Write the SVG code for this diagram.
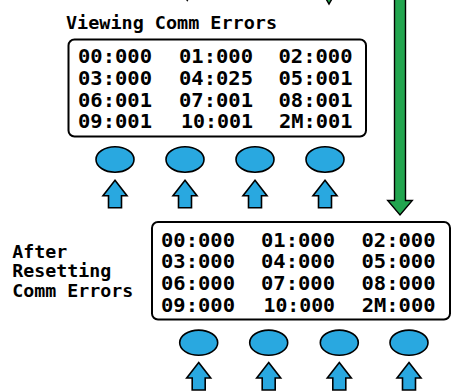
<svg xmlns="http://www.w3.org/2000/svg" xmlns:xlink="http://www.w3.org/1999/xlink" width="458" height="392" viewBox="0 0 458 392">
  <style>
    .lbl { font-family: "DejaVu Sans Mono", "Liberation Mono", monospace; font-size: 17px; font-weight: bold; fill: #000; }
    .num { font-family: "DejaVu Sans Mono", "Liberation Mono", monospace; font-size: 18.6px; font-weight: bold; fill: #000; }
    .box { fill: #fff; stroke: #000; stroke-width: 2; }
    .btn { fill: #29A8E0; stroke: #000; stroke-width: 1.6; }
    .up { fill: #29A8E0; stroke: #000; stroke-width: 1.6; stroke-linejoin: miter; }
    .green { fill: #22A54F; stroke: #000; stroke-width: 1.4; }
  </style>
  <defs>
    <path id="uparrow" d="M0,0 L12,15.5 L6.5,15.5 L6.5,27.5 L-6.5,27.5 L-6.5,15.5 L-12,15.5 Z"/>
  </defs>
  <rect width="458" height="392" fill="#fff"/>

  <g id="connectors">
    <polygon class="green" points="394.5,-2 405.5,-2 405.5,200.5 412.3,200.5 400,215 387.7,200.5 394.5,200.5"/>
    <polygon class="green" points="325.5,-2 332.5,-2 329,4"/>
    <polygon fill="#000" points="185.5,-1 189,-1 187.3,1.8"/>
  </g>

  <g id="title">
    <text class="lbl" x="66" y="28.5" textLength="211" lengthAdjust="spacingAndGlyphs">Viewing Comm Errors</text>
  </g>

  <g id="display-before">
    <rect class="box" x="68.5" y="39.5" width="297.5" height="97" rx="6"/>
    <g class="num">
      <text x="78" y="63" textLength="74" lengthAdjust="spacingAndGlyphs">00:000</text>
      <text x="179" y="63" textLength="74" lengthAdjust="spacingAndGlyphs">01:000</text>
      <text x="278.5" y="63" textLength="74" lengthAdjust="spacingAndGlyphs">02:000</text>
      <text x="78" y="85" textLength="74" lengthAdjust="spacingAndGlyphs">03:000</text>
      <text x="179" y="85" textLength="74" lengthAdjust="spacingAndGlyphs">04:025</text>
      <text x="278.5" y="85" textLength="74" lengthAdjust="spacingAndGlyphs">05:001</text>
      <text x="78" y="106.5" textLength="74" lengthAdjust="spacingAndGlyphs">06:001</text>
      <text x="179" y="106.5" textLength="74" lengthAdjust="spacingAndGlyphs">07:001</text>
      <text x="278.5" y="106.5" textLength="74" lengthAdjust="spacingAndGlyphs">08:001</text>
      <text x="78" y="128" textLength="74" lengthAdjust="spacingAndGlyphs">09:001</text>
      <text x="181" y="128" textLength="72" lengthAdjust="spacingAndGlyphs">10:001</text>
      <text x="279" y="128" textLength="73.5" lengthAdjust="spacingAndGlyphs">2M:001</text>
    </g>
  </g>

  <g id="buttons-before">
    <ellipse class="btn" cx="115" cy="159.5" rx="19" ry="12.7"/>
    <ellipse class="btn" cx="185" cy="159.5" rx="19" ry="12.7"/>
    <ellipse class="btn" cx="255" cy="159.5" rx="19" ry="12.7"/>
    <ellipse class="btn" cx="325" cy="159.5" rx="19" ry="12.7"/>
    <use xlink:href="#uparrow" href="#uparrow" class="up" x="115" y="180.3"/>
    <use xlink:href="#uparrow" href="#uparrow" class="up" x="185" y="180.3"/>
    <use xlink:href="#uparrow" href="#uparrow" class="up" x="255" y="180.3"/>
    <use xlink:href="#uparrow" href="#uparrow" class="up" x="325" y="180.3"/>
  </g>

  <g id="label-after">
    <text class="lbl" x="12.3" y="257.5" textLength="55" lengthAdjust="spacingAndGlyphs">After</text>
    <text class="lbl" x="12.3" y="277" textLength="99" lengthAdjust="spacingAndGlyphs">Resetting</text>
    <text class="lbl" x="12.3" y="296.7" textLength="121" lengthAdjust="spacingAndGlyphs">Comm Errors</text>
  </g>

  <g id="display-after">
    <rect class="box" x="152" y="222" width="298" height="97.5" rx="6"/>
    <g class="num">
      <text x="161" y="246.7" textLength="74" lengthAdjust="spacingAndGlyphs">00:000</text>
      <text x="261" y="246.7" textLength="74" lengthAdjust="spacingAndGlyphs">01:000</text>
      <text x="361.5" y="246.7" textLength="74" lengthAdjust="spacingAndGlyphs">02:000</text>
      <text x="161" y="268" textLength="74" lengthAdjust="spacingAndGlyphs">03:000</text>
      <text x="261" y="268" textLength="74" lengthAdjust="spacingAndGlyphs">04:000</text>
      <text x="361.5" y="268" textLength="74" lengthAdjust="spacingAndGlyphs">05:000</text>
      <text x="161" y="290" textLength="74" lengthAdjust="spacingAndGlyphs">06:000</text>
      <text x="261" y="290" textLength="74" lengthAdjust="spacingAndGlyphs">07:000</text>
      <text x="361.5" y="290" textLength="74" lengthAdjust="spacingAndGlyphs">08:000</text>
      <text x="161" y="311.7" textLength="74" lengthAdjust="spacingAndGlyphs">09:000</text>
      <text x="263.5" y="311.7" textLength="71.5" lengthAdjust="spacingAndGlyphs">10:000</text>
      <text x="361.7" y="311.7" textLength="73.8" lengthAdjust="spacingAndGlyphs">2M:000</text>
    </g>
  </g>

  <g id="buttons-after">
    <ellipse class="btn" cx="198.7" cy="342.7" rx="19" ry="12.6"/>
    <ellipse class="btn" cx="268.7" cy="342.7" rx="19" ry="12.6"/>
    <ellipse class="btn" cx="339.3" cy="342.7" rx="19" ry="12.6"/>
    <ellipse class="btn" cx="409" cy="342.7" rx="19" ry="12.6"/>
    <use xlink:href="#uparrow" href="#uparrow" class="up" x="198.7" y="362.5"/>
    <use xlink:href="#uparrow" href="#uparrow" class="up" x="268.7" y="362.5"/>
    <use xlink:href="#uparrow" href="#uparrow" class="up" x="339.3" y="362.5"/>
    <use xlink:href="#uparrow" href="#uparrow" class="up" x="409" y="362.5"/>
  </g>
</svg>
